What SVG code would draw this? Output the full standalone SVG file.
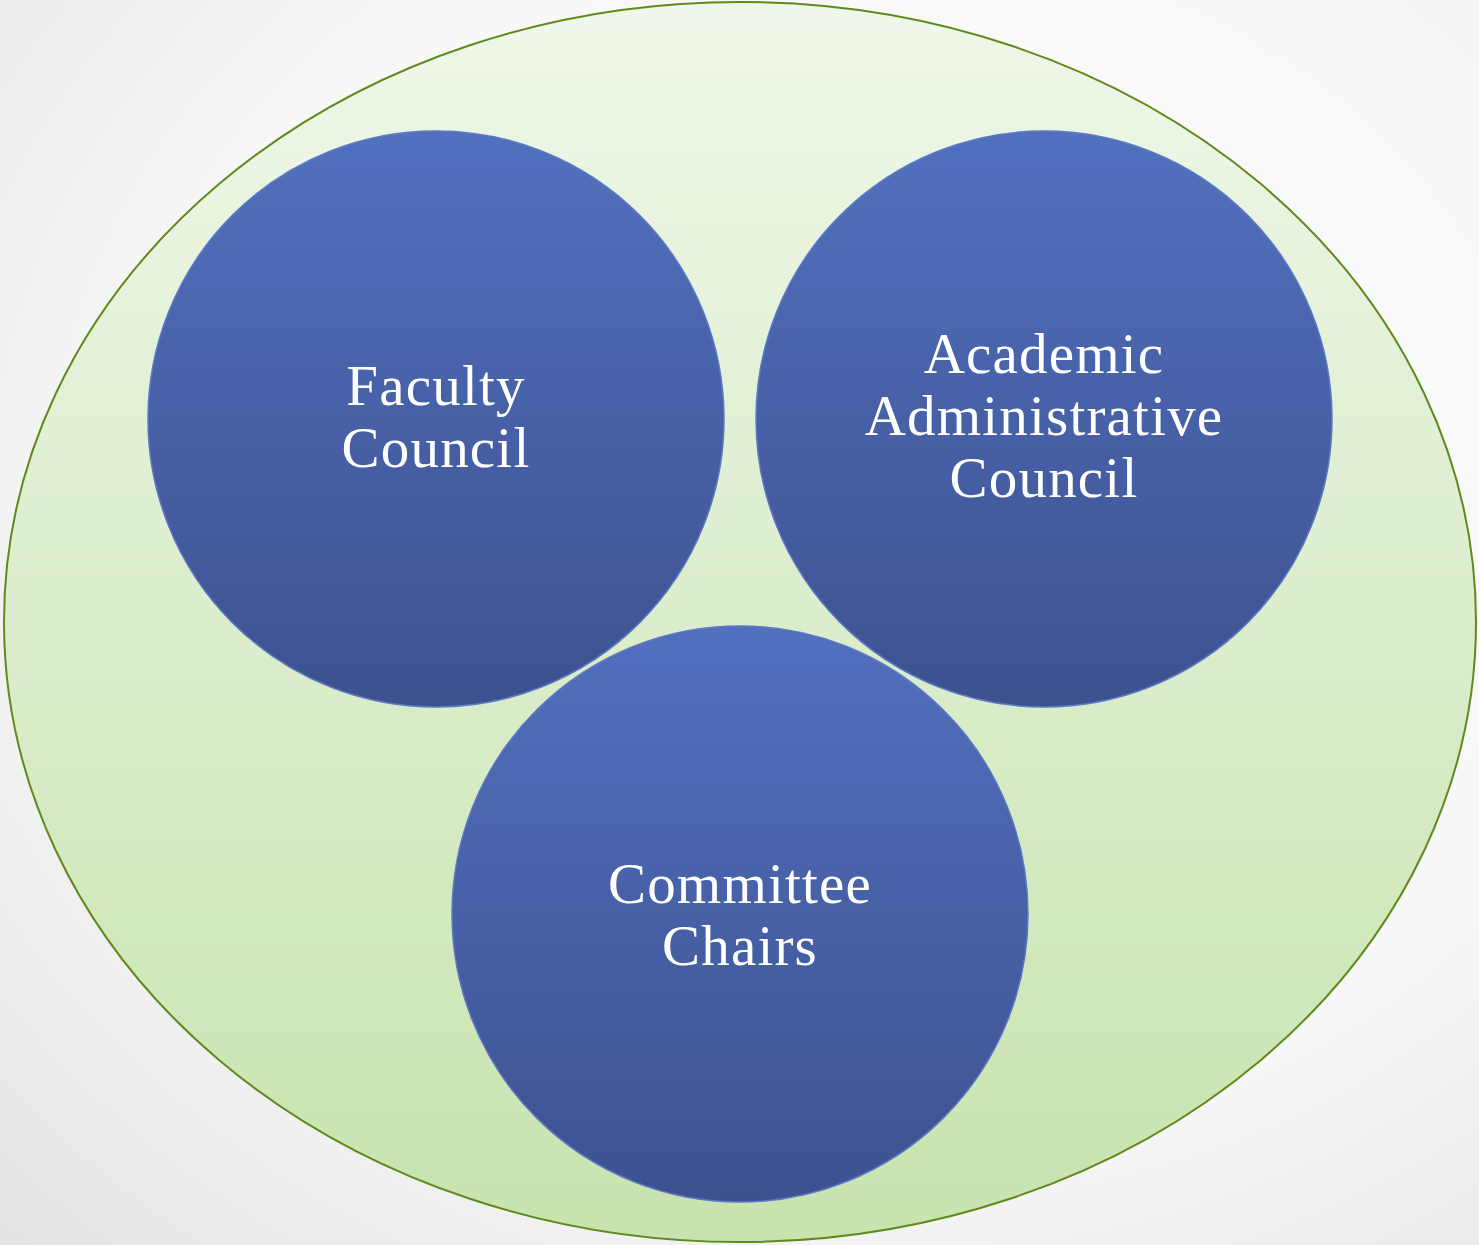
<svg xmlns="http://www.w3.org/2000/svg" width="1479" height="1245" viewBox="0 0 1479 1245">
<defs>
<radialGradient id="bg" cx="0.6" cy="0.4" r="0.85">
<stop offset="0" stop-color="#ffffff"/>
<stop offset="0.6" stop-color="#f7f7f7"/>
<stop offset="1" stop-color="#e4e4e4"/>
</radialGradient>
<linearGradient id="gEll" x1="0" y1="0" x2="0" y2="1">
<stop offset="0" stop-color="#eff7ea"/>
<stop offset="1" stop-color="#c8e3ae"/>
</linearGradient>
<linearGradient id="gCirc" x1="0" y1="0" x2="0" y2="1">
<stop offset="0" stop-color="#5170be"/>
<stop offset="1" stop-color="#3d518f"/>
</linearGradient>
<style>
.node circle{fill:url(#gCirc);stroke:#5b79c4;stroke-width:1.5}
.node text{font-family:"Liberation Serif","Times New Roman",serif;font-size:57px;letter-spacing:1.2px;fill:#ffffff;text-anchor:middle}
</style>
</defs>
<rect width="1479" height="1245" fill="url(#bg)"/>
<g id="outer">
<ellipse cx="740" cy="622" rx="736" ry="620" fill="url(#gEll)" stroke="#5f8a1c" stroke-width="2"/>
</g>
<g id="connectors"/>
<g id="faculty" class="node">
<circle cx="436" cy="419" r="288"/>
<text x="436" y="405">Faculty</text>
<text x="436" y="467">Council</text>
</g>
<g id="academic" class="node">
<circle cx="1044" cy="419" r="288"/>
<text x="1044" y="373">Academic</text>
<text x="1044" y="435">Administrative</text>
<text x="1044" y="497">Council</text>
</g>
<g id="committee" class="node">
<circle cx="740" cy="914" r="288"/>
<text x="740" y="903">Committee</text>
<text x="740" y="965">Chairs</text>
</g>
</svg>
